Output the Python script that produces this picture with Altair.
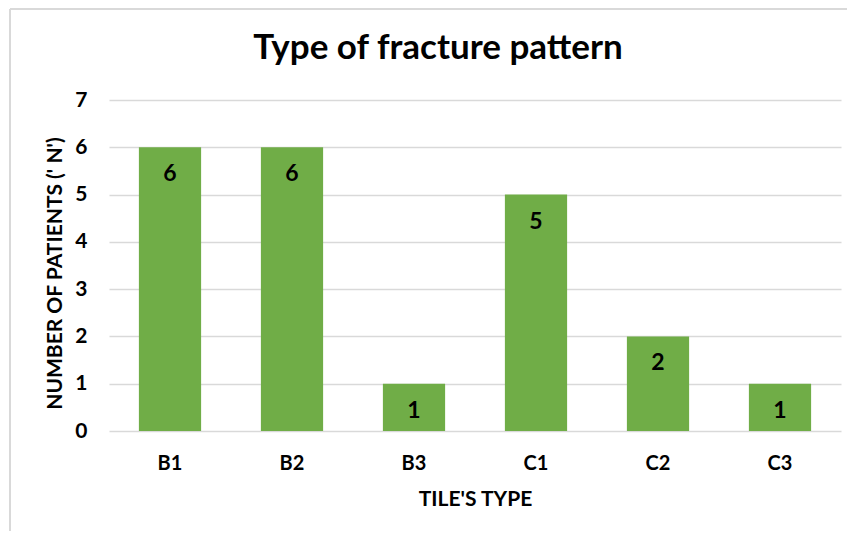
import altair as alt
import pandas as pd

categories = ["B1", "B2", "B3", "C1", "C2", "C3"]
patients = [6, 6, 1, 5, 2, 1]
y_ticks = [0, 1, 2, 3, 4, 5, 6, 7]

df = pd.DataFrame({"type": categories, "n": patients})
frame_df = pd.DataFrame({"k": [0]})

FONT = "Lato"
GRID = "#d9d9d9"

x_enc = alt.X(
    "type:N",
    sort=categories,
    scale=alt.Scale(paddingInner=0.49, paddingOuter=0.245),
    axis=alt.Axis(
        title="TILE'S TYPE",
        labelAngle=0,
        ticks=False,
        domain=False,
        labelPadding=22,
        titlePadding=15,
        labelFont=FONT,
        labelFontSize=20,
        labelFontWeight="bold",
        labelColor="#000000",
        titleFont=FONT,
        titleFontSize=21,
        titleFontWeight="bold",
        titleColor="#000000",
    ),
)
y_enc = alt.Y(
    "n:Q",
    scale=alt.Scale(domain=[0, 7], nice=False),
    axis=alt.Axis(
        title="NUMBER OF PATIENTS (' N')",
        values=y_ticks,
        ticks=False,
        domain=False,
        grid=True,
        gridColor=GRID,
        gridWidth=1.5,
        labelPadding=22,
        titlePadding=9,
        titleY=173,
        labelFont=FONT,
        labelFontSize=21,
        labelFontWeight="bold",
        labelColor="#000000",
        titleFont=FONT,
        titleFontSize=21,
        titleFontWeight="bold",
        titleColor="#000000",
    ),
)

bars = alt.Chart(df).mark_bar(color="#70ad47").encode(x=x_enc, y=y_enc)

labels = alt.Chart(df).mark_text(
    font=FONT, fontSize=23, fontWeight="bold", color="#000000", dy=27
).encode(x=alt.X("type:N", sort=categories), y=alt.Y("n:Q"), text="n:Q")

frame_left = alt.Chart(frame_df).mark_rule(color=GRID, strokeWidth=2).encode(
    x=alt.value(-99), y=alt.value(-91), y2=alt.value(431)
)
frame_top = alt.Chart(frame_df).mark_rule(color=GRID, strokeWidth=2).encode(
    x=alt.value(-99), x2=alt.value(738), y=alt.value(-91)
)

chart = (
    alt.layer(frame_left, frame_top, bars, labels)
    .properties(
        width=732,
        height=331,
        title=alt.TitleParams(
            "Type of fracture pattern",
            font=FONT,
            fontSize=35,
            fontWeight="bold",
            color="#000000",
            anchor="middle",
            baseline="alphabetic",
            dx=-37,
            dy=86,
            offset=0,
        ),
        autosize=alt.AutoSizeParams(type="none"),
        padding={"left": 101, "top": 92, "right": 6, "bottom": 100},
        background="white",
    )
    .configure_view(stroke=None)
)

chart.save("out.html", embed_options={"renderer": "svg", "actions": False})
